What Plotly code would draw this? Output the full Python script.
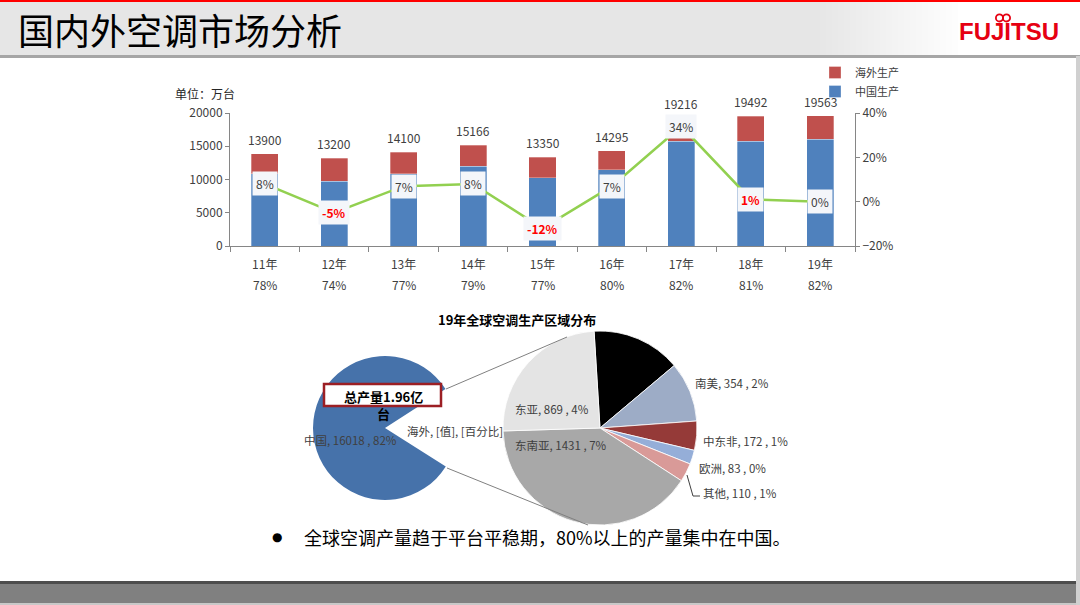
import plotly.graph_objects as go

W, H = 1080, 605


def px(x):
    return x / W


def py(y):
    return 1 - y / H


# ---------------- data ----------------
years = ['11年', '12年', '13年', '14年', '15年', '16年', '17年', '18年', '19年']
total = [13900, 13200, 14100, 15166, 13350, 14295, 19216, 19492, 19563]
china = [10842, 9768, 10857, 11981, 10280, 11436, 15757, 15789, 16018]
overseas = [3058, 3432, 3243, 3185, 3070, 2859, 3459, 3703, 3545]
china_share = ['78%', '74%', '77%', '79%', '77%', '80%', '82%', '81%', '82%']
growth = [0.08, -0.05, 0.07, 0.08, -0.12, 0.07, 0.34, 0.01, 0.00]
growth_labels = ['8%', '-5%', '7%', '8%', '-12%', '7%', '34%', '1%', '0%']
growth_highlight = [False, True, False, False, True, False, False, True, False]

pie1_labels = ['中国', '海外']
pie1_values = [16018, 3545]
pie1_texts = ['中国, 16018 , 82%', '海外, [值], [百分比]']

regions = ['未标注', '南美', '中东非', '欧洲', '其他', '东南亚', '东亚']
region_values = [526, 354, 172, 83, 110, 1431, 869]
region_labelled = [False, True, True, True, True, True, True]
global_total = 19563

# ---------------- styles / positions ----------------
BLUE = '#4F81BD'
RED = '#C0504D'
GREEN = '#92D050'
AX = '#868686'
TXT = '#404040'
FONT = 'Noto Sans CJK SC'

pie1_colors = ['#4672AA', 'rgba(0,0,0,0)']
region_colors = ['#000000', '#9DACC6', '#953A38', '#95AED8', '#D99A98', '#A8A8A8', '#E4E4E4']
# label anchor positions (pixels) for pie labels
pie1_label_pos = [(350, 440, 'center'), (405, 431, 'left')]
region_label_pos = [None, (693, 383, 'left'), (701, 441, 'left'), (697, 468, 'left'),
                    (701, 493, 'left'), (513, 445, 'left'), (513, 409, 'left')]

fig = go.Figure()

fig.add_trace(go.Bar(x=years, y=china, name='中国生产',
                     marker=dict(color=BLUE, line=dict(color='rgba(255,255,255,0.6)', width=0.5)),
                     xaxis='x', yaxis='y'))
fig.add_trace(go.Bar(x=years, y=overseas, name='海外生产',
                     marker=dict(color=RED, line=dict(color='rgba(255,255,255,0.6)', width=0.5)),
                     xaxis='x', yaxis='y'))
fig.add_trace(go.Scatter(x=years, y=growth, mode='lines', line=dict(color=GREEN, width=2.5),
                         showlegend=False, xaxis='x', yaxis='y2'))

fig.add_trace(go.Pie(labels=pie1_labels, values=pie1_values, sort=False, direction='clockwise',
                     rotation=122.4, marker=dict(colors=pie1_colors, line=dict(width=0)),
                     textinfo='none', showlegend=False,
                     domain=dict(x=[px(313), px(457)], y=[py(500), py(356)])))
fig.add_trace(go.Pie(labels=regions, values=region_values, sort=False, direction='clockwise',
                     rotation=-3.5, marker=dict(colors=region_colors, line=dict(color='white', width=0.8)),
                     textinfo='none', showlegend=False,
                     domain=dict(x=[px(503), px(697)], y=[py(525), py(331)])))

annotations = []
shapes = []

# header
shapes.append(dict(type='rect', xref='paper', yref='paper', x0=0, x1=1, y0=py(56), y1=py(2),
                   fillcolor='#E6E6E6', line=dict(width=0), layer='below'))
n = 24
for i in range(n):
    x0 = 820 + i * 6
    c = int(0xE6 + (0xFF - 0xE6) * (i + 1) / n)
    shapes.append(dict(type='rect', xref='paper', yref='paper', x0=px(x0), x1=px(x0 + 6), y0=py(56), y1=py(2),
                       fillcolor='rgb(%d,%d,%d)' % (c, c, c), line=dict(width=0), layer='below'))
shapes.append(dict(type='rect', xref='paper', yref='paper', x0=px(964), x1=1, y0=py(56), y1=py(2),
                   fillcolor='#FFFFFF', line=dict(width=0), layer='below'))
shapes.append(dict(type='rect', xref='paper', yref='paper', x0=0, x1=1, y0=py(2), y1=1,
                   fillcolor='#FF0000', line=dict(width=0), layer='below'))
shapes.append(dict(type='rect', xref='paper', yref='paper', x0=0, x1=1, y0=py(58), y1=py(55),
                   fillcolor='#A6A6A6', line=dict(width=0), layer='below'))
# footer
shapes.append(dict(type='rect', xref='paper', yref='paper', x0=0, x1=1, y0=py(584), y1=py(581),
                   fillcolor='#4D4D4D', line=dict(width=0), layer='below'))
shapes.append(dict(type='rect', xref='paper', yref='paper', x0=0, x1=1, y0=py(603), y1=py(584),
                   fillcolor='#808080', line=dict(width=0), layer='below'))
shapes.append(dict(type='rect', xref='paper', yref='paper', x0=0, x1=1, y0=0, y1=py(603),
                   fillcolor='#C8C8C8', line=dict(width=0), layer='below'))
shapes.append(dict(type='rect', xref='paper', yref='paper', x0=px(1076), x1=1, y0=0, y1=py(56),
                   fillcolor='#D0D0D0', line=dict(width=0), layer='below'))

# logo infinity mark drawn as two small loops
for cx in (999.5, 1006.5):
    shapes.append(dict(type='circle', xref='paper', yref='paper', x0=px(cx - 3.6), x1=px(cx + 3.6),
                       y0=py(21.5), y1=py(14.3), line=dict(color='#E60012', width=1.8)))

annotations.append(dict(x=px(16), y=py(29), xref='paper', yref='paper', xanchor='left', yanchor='middle',
                        text='国内外空调市场分析', showarrow=False,
                        font=dict(size=36, color='#000000', family=FONT)))
annotations.append(dict(x=px(1009), y=py(32), xref='paper', yref='paper', xanchor='center', yanchor='middle',
                        text='<b>FUJITSU</b>', showarrow=False,
                        font=dict(size=24, color='#E60012', family='Liberation Sans')))

# bar chart texts
annotations.append(dict(x=px(173), y=py(93), xref='paper', yref='paper', xanchor='left', yanchor='middle',
                        text='单位：万台', showarrow=False, font=dict(size=12, color='#262626', family=FONT)))
for yr, t in zip(years, total):
    annotations.append(dict(x=yr, y=t, xref='x', yref='y', xanchor='center', yanchor='bottom', yshift=4,
                            text=str(t), showarrow=False, font=dict(size=12, color=TXT, family=FONT)))
for yr, sh in zip(years, china_share):
    annotations.append(dict(x=yr, y=py(284), xref='x', yref='paper', xanchor='center', yanchor='middle',
                            text=sh, showarrow=False, font=dict(size=12, color=TXT, family=FONT)))
for yr, g, lab, hl in zip(years, growth, growth_labels, growth_highlight):
    annotations.append(dict(x=yr, y=g, xref='x', yref='y2', xanchor='center', yanchor='middle',
                            text=('<b>%s</b>' % lab) if hl else lab, showarrow=False,
                            bgcolor='#F4F6FA', borderpad=3,
                            font=dict(size=12, color='#FF0000' if hl else TXT, family=FONT)))

# pie texts
annotations.append(dict(x=px(517), y=py(319), xref='paper', yref='paper', xanchor='center', yanchor='middle',
                        text='<b>19年全球空调生产区域分布</b>', showarrow=False,
                        font=dict(size=13, color='#000000', family=FONT)))
for t, (lx, ly, anc) in zip(pie1_texts, pie1_label_pos):
    annotations.append(dict(x=px(lx), y=py(ly), xref='paper', yref='paper', xanchor=anc, yanchor='middle',
                            text=t, showarrow=False, font=dict(size=11.5, color=TXT, family=FONT)))
for name, v, lbl, pos in zip(regions, region_values, region_labelled, region_label_pos):
    if not lbl:
        continue
    lx, ly, anc = pos
    pct = round(v / global_total * 100)
    annotations.append(dict(x=px(lx), y=py(ly), xref='paper', yref='paper', xanchor=anc, yanchor='middle',
                            text='%s, %d , %d%%' % (name, v, pct), showarrow=False,
                            font=dict(size=11.5, color=TXT, family=FONT)))

# connector lines between pies
shapes.append(dict(type='line', xref='paper', yref='paper', x0=px(446), y0=py(389), x1=px(567), y1=py(337),
                   line=dict(color='#808080', width=1)))
shapes.append(dict(type='line', xref='paper', yref='paper', x0=px(447), y0=py(468), x1=px(588), y1=py(525),
                   line=dict(color='#808080', width=1)))
# leader line for 其他
shapes.append(dict(type='path', xref='paper', yref='paper',
                   path='M %f %f L %f %f L %f %f' % (px(687), py(475), px(693), py(496), px(700), py(496)),
                   line=dict(color='#404040', width=1)))

# total box
shapes.append(dict(type='rect', xref='paper', yref='paper', x0=px(324), x1=px(441), y0=py(406), y1=py(384),
                   fillcolor='#FFFFFF', line=dict(color='#9C1F24', width=2.5)))
annotations.append(dict(x=px(383), y=py(405), xref='paper', yref='paper', xanchor='center', yanchor='middle',
                        text='<b>总产量1.96亿<br>台</b>', showarrow=False,
                        font=dict(size=13, color='#000000', family=FONT)))

# bullet
annotations.append(dict(x=px(277), y=py(537), xref='paper', yref='paper', xanchor='center', yanchor='middle',
                        text='●', showarrow=False, font=dict(size=12, color='#000000', family='DejaVu Sans')))
annotations.append(dict(x=px(302), y=py(537), xref='paper', yref='paper', xanchor='left', yanchor='middle',
                        text='全球空调产量趋于平台平稳期，80%以上的产量集中在中国。', showarrow=False,
                        font=dict(size=18, color='#000000', family=FONT)))

fig.update_layout(
    width=W, height=H,
    margin=dict(l=0, r=0, t=0, b=0, pad=0, autoexpand=False),
    paper_bgcolor='white', plot_bgcolor='white',
    barmode='stack', bargap=0.61,
    font=dict(family=FONT, size=12, color=TXT),
    xaxis=dict(domain=[px(230), px(855)], type='category', showline=True, linecolor=AX, linewidth=1,
               ticks='outside', ticklen=5, tickcolor=AX, tickson='boundaries', ticklabelstandoff=8,
               tickfont=dict(size=12, color=TXT, family=FONT), showgrid=False, zeroline=False,
               anchor='y'),
    yaxis=dict(domain=[py(246), py(113)], range=[0, 20000], dtick=5000, tickformat='d', showline=True,
               linecolor=AX, ticks='outside', ticklen=4, tickcolor=AX, showgrid=False, zeroline=False,
               tickfont=dict(size=12, color=TXT, family=FONT), anchor='x'),
    yaxis2=dict(domain=[py(246), py(113)], range=[-0.2, 0.4], dtick=0.2, tickformat='.0%',
                overlaying='y', side='right', showline=True, linecolor=AX, ticks='outside', ticklen=4,
                tickcolor=AX, showgrid=False, zeroline=False, anchor='x',
                tickfont=dict(size=12, color=TXT, family=FONT)),
    legend=dict(x=px(815), y=py(58), xanchor='left', yanchor='top', traceorder='reversed',
                font=dict(size=11, color=TXT, family=FONT), bgcolor='rgba(0,0,0,0)',
                itemwidth=30, tracegroupgap=0),
    annotations=annotations,
    shapes=shapes,
)

fig.write_html('out.html')
